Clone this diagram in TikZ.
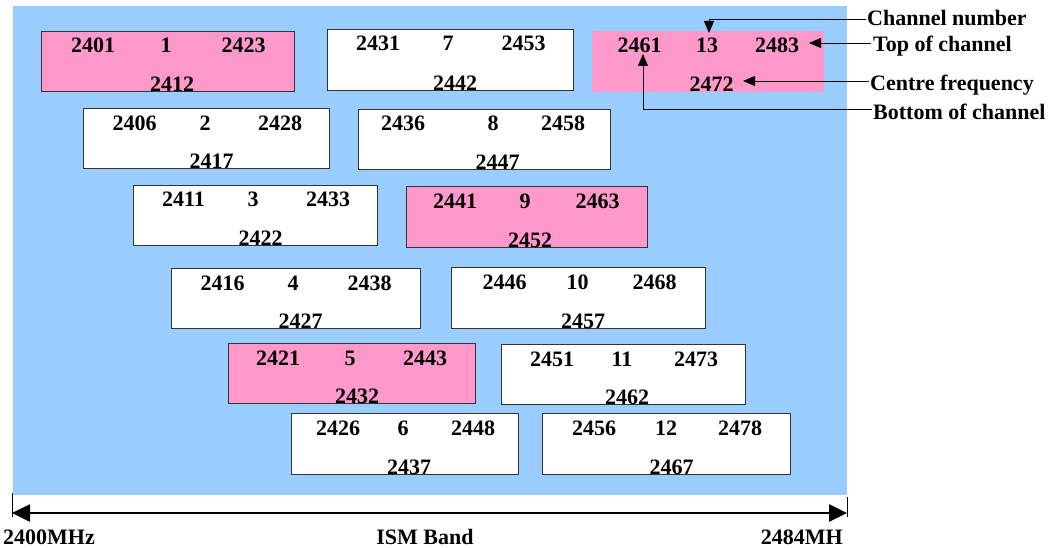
\documentclass[tikz,border=0pt]{standalone}
\usepackage{fontspec}
\setmainfont{Liberation Serif}
\usetikzlibrary{arrows.meta}
\definecolor{bandblue}{HTML}{99CCFF}
\definecolor{chpink}{HTML}{FF99CC}
\tikzset{
  chbox/.style={draw=black!80, line width=0.9pt, fill=white},
  pinkbox/.style={draw=black!80, line width=0.9pt, fill=chpink},
  num/.style={inner sep=0pt, anchor=base, font=\fontsize{22}{22}\selectfont\bfseries},
  lbl/.style={inner sep=0pt, anchor=base west, font=\fontsize{22}{22}\selectfont\bfseries},
  annarrow/.style={draw=black, line width=0.9pt, -{Triangle[length=12pt,width=10pt]}},
  bandarrow/.style={draw=black, line width=2.6pt, {Triangle[length=18pt,width=17pt]}-{Triangle[length=18pt,width=17pt]}},
}
\newcommand{\chanbox}[5]{\path[#5] (#1,#2) rectangle (#3,#4);}
\begin{document}
\begin{tikzpicture}[x=1pt,y=-1pt]
\useasboundingbox (0,0) rectangle (1054,548);
\fill[bandblue] (13,6) rectangle (847,495);

% channel boxes
\chanbox{41}{31}{294}{91}{pinkbox}
\chanbox{83}{108}{329}{168}{chbox}
\chanbox{133}{185}{377}{245}{chbox}
\chanbox{171}{268}{420}{328}{chbox}
\chanbox{228}{343}{475}{403}{pinkbox}
\chanbox{291}{413}{518}{474}{chbox}
\chanbox{327}{29}{573}{90}{chbox}
\chanbox{358}{109}{610}{169}{chbox}
\chanbox{406}{186}{647}{247}{pinkbox}
\chanbox{451}{267}{705}{328}{chbox}
\chanbox{501}{344}{745}{404}{chbox}
\chanbox{542}{413}{790}{474}{chbox}
\fill[chpink] (592,31) rectangle (824,92);

% numbers: bottom, channel, top, centre
\node[num] (l1) at (93,53) {2401};   \node[num] (n1) at (166,53) {1};   \node[num] (r1) at (243.5,53) {2423};  \node[num] (c1) at (172,91.5) {2412};
\node[num] (l2) at (134.5,131) {2406}; \node[num] (n2) at (205,131) {2};  \node[num] (r2) at (280,131) {2428};  \node[num] (c2) at (211.5,168.5) {2417};
\node[num] (l3) at (183.5,207) {2411}; \node[num] (n3) at (253,207) {3};  \node[num] (r3) at (328,207) {2433};  \node[num] (c3) at (260.5,245.5) {2422};
\node[num] (l4) at (222.5,290) {2416}; \node[num] (n4) at (293,290) {4};  \node[num] (r4) at (369.5,290) {2438}; \node[num] (c4) at (300.5,328.5) {2427};
\node[num] (l5) at (278,365) {2421};   \node[num] (n5) at (350,365) {5};  \node[num] (r5) at (425,365) {2443};    \node[num] (c5) at (357,403.5) {2432};
\node[num] (l6) at (338,435) {2426};   \node[num] (n6) at (403,435) {6};  \node[num] (r6) at (473,435) {2448};    \node[num] (c6) at (409,474.5) {2437};
\node[num] (l7) at (378,51) {2431};    \node[num] (n7) at (448,51) {7};   \node[num] (r7) at (523.5,51) {2453};   \node[num] (c7) at (455,90.5) {2442};
\node[num] (l8) at (403,131) {2436};   \node[num] (n8) at (493,131) {8};  \node[num] (r8) at (563,131) {2458};    \node[num] (c8) at (497.5,169.5) {2447};
\node[num] (l9) at (455,208) {2441};   \node[num] (n9) at (525,208) {9};  \node[num] (r9) at (597.5,208) {2463};  \node[num] (c9) at (530,247.5) {2452};
\node[num] (l10) at (504.5,289) {2446}; \node[num] (n10) at (577.5,289) {10}; \node[num] (r10) at (654.5,289) {2468}; \node[num] (c10) at (583,328.5) {2457};
\node[num] (l11) at (552,366) {2451};  \node[num] (n11) at (622,366) {11}; \node[num] (r11) at (696,366) {2473};  \node[num] (c11) at (627,404.5) {2462};
\node[num] (l12) at (594,435) {2456};  \node[num] (n12) at (666,435) {12}; \node[num] (r12) at (740,435) {2478};  \node[num] (c12) at (671.5,474.5) {2467};
\node[num] (l13) at (639.5,53) {2461}; \node[num] (n13) at (707,53) {13}; \node[num] (r13) at (777,53) {2483};  \node[num] (c13) at (711.5,91.5) {2472};

% annotation labels
\node[lbl] (lblCh) at (867,26) {Channel number};
\node[lbl] (lblTop) at (873,52) {Top of channel};
\node[lbl] (lblCen) at (870,91) {Centre frequency};
\node[lbl] (lblBot) at (873,120) {Bottom of channel};

\coordinate (tipCh) at (709,33);
\coordinate (tipTop) at (809,43);
\coordinate (tipCen) at (743,81);
\coordinate (tipBot) at (643,54);
\draw[annarrow] ([xshift=-1pt,yshift=7pt]lblCh.base west) -| (tipCh);
\draw[annarrow] ([xshift=-2pt,yshift=9pt]lblTop.base west) -- (tipTop);
\draw[annarrow] ([xshift=-1pt,yshift=10pt]lblCen.base west) -- (tipCen);
\draw[annarrow] ([xshift=-1pt,yshift=11pt]lblBot.base west) -| (tipBot);

% ISM band
\coordinate (bandL) at (12,513);
\coordinate (bandR) at (847,513);
\draw[bandarrow] (bandL) -- (bandR);
\draw[line width=0.9pt] (12,493) -- (12,517);
\draw[line width=0.9pt] (847,497) -- (847,517);
\node[lbl] (lo) at (3,544) {2400MHz};
\node[num] (ism) at (425,544) {ISM Band};
\node[num, anchor=base east] (hi) at (843,544) {2484MH};
\end{tikzpicture}
\end{document}
